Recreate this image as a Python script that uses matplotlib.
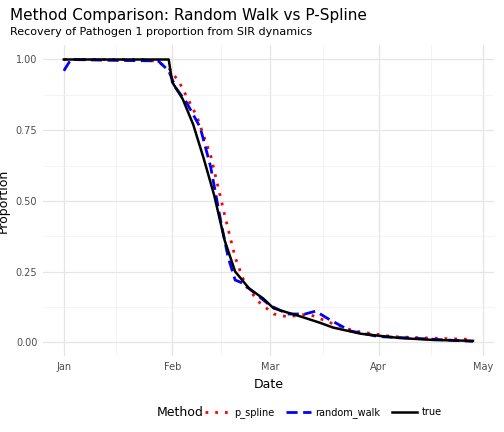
import matplotlib
matplotlib.use("Agg")
import matplotlib.pyplot as plt
import matplotlib.dates as mdates
import pandas as pd

true_dates = ["2021-01-01","2021-01-30","2021-01-31","2021-02-01","2021-02-04","2021-02-07","2021-02-10","2021-02-13","2021-02-16","2021-02-19","2021-02-23","2021-02-27","2021-03-02","2021-03-06","2021-03-10","2021-03-15","2021-03-19","2021-03-27","2021-04-07","2021-04-17","2021-04-28"]
true_vals = [1.0,1.0,1.0,0.92,0.86,0.77,0.65,0.52,0.36,0.25,0.19,0.155,0.12,0.105,0.09,0.07,0.052,0.03,0.015,0.008,0.005]

rw_dates = ["2021-01-01","2021-01-03","2021-01-15","2021-01-28","2021-01-31","2021-02-02","2021-02-05","2021-02-09","2021-02-12","2021-02-15","2021-02-17","2021-02-19","2021-02-21","2021-02-26","2021-03-01","2021-03-06","2021-03-11","2021-03-14","2021-03-18","2021-03-24","2021-04-01","2021-04-10","2021-04-28"]
rw_vals = [0.96,1.0,0.997,0.995,0.96,0.90,0.85,0.76,0.62,0.42,0.30,0.22,0.21,0.16,0.13,0.10,0.10,0.11,0.08,0.04,0.02,0.015,0.003]

ps_dates = ["2021-01-01","2021-01-25","2021-01-28","2021-01-31","2021-02-03","2021-02-08","2021-02-12","2021-02-16","2021-02-19","2021-02-22","2021-02-26","2021-03-02","2021-03-06","2021-03-12","2021-03-18","2021-03-25","2021-04-05","2021-04-15","2021-04-28"]
ps_vals = [1.0,1.0,0.99,0.97,0.92,0.80,0.66,0.45,0.30,0.20,0.14,0.10,0.09,0.10,0.07,0.04,0.02,0.015,0.01]

fig = plt.figure(figsize=(5.04, 4.32), dpi=100)
ax = fig.add_axes([0.085, 0.175, 0.895, 0.72])
ax.plot(pd.to_datetime(ps_dates), ps_vals, color="red", ls=(0, (1, 2.5)), lw=2, label="p_spline")
ax.plot(pd.to_datetime(rw_dates), rw_vals, color="blue", ls=(0, (4, 2)), lw=2, label="random_walk")
ax.plot(pd.to_datetime(true_dates), true_vals, color="black", lw=1.8, label="true")

ax.set_xlim(pd.Timestamp("2020-12-26"), pd.Timestamp("2021-05-04"))
ax.set_ylim(-0.05, 1.05)
ax.set_yticks([0, 0.25, 0.5, 0.75, 1.0])
ax.set_yticklabels(["0.00", "0.25", "0.50", "0.75", "1.00"])
ax.set_yticks([0.125, 0.375, 0.625, 0.875], minor=True)
ax.xaxis.set_major_locator(mdates.MonthLocator())
ax.xaxis.set_major_formatter(mdates.DateFormatter("%b"))
ax.set_xticks(pd.to_datetime(["2021-01-16","2021-02-15","2021-03-16","2021-04-16"]), minor=True)
ax.grid(True, which="major", color="#e5e5e5", lw=0.9)
ax.grid(True, which="minor", color="#f2f2f2", lw=0.6)
for s in ax.spines.values():
    s.set_visible(False)
ax.tick_params(which="both", length=0, labelsize=7, colors="#4d4d4d", pad=4)
ax.set_xlabel("Date", fontsize=9)
ax.set_ylabel("Proportion", fontsize=9)
fig.text(0.02, 0.965, "Method Comparison: Random Walk vs P-Spline", fontsize=11, va="center")
fig.text(0.02, 0.925, "Recovery of Pathogen 1 proportion from SIR dynamics", fontsize=8, va="center")
fig.text(0.312, 0.045, "Method", fontsize=9, va="center")
fig.legend(loc="center left", bbox_to_anchor=(0.39, 0.045), ncol=3, frameon=False, fontsize=7,
           handlelength=2.5, columnspacing=1.2, handletextpad=0.5)
fig.savefig("out.png", dpi=100)
